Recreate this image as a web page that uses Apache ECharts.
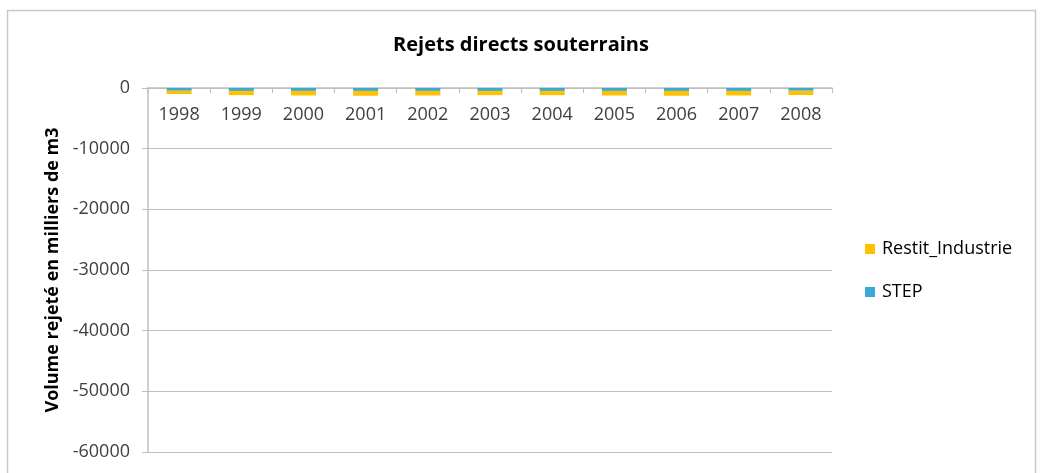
<!DOCTYPE html>
<html>
<head>
<meta charset="utf-8">
<script src="https://cdn.jsdelivr.net/npm/echarts@6/dist/echarts.min.js"></script>
<style>
  html, body { margin: 0; padding: 0; background: #fff; }
  #chart { width: 1042px; height: 473px; }
</style>
</head>
<body>
<div id="chart"></div>
<script>
const YEARS = ["1998", "1999", "2000", "2001", "2002", "2003", "2004", "2005", "2006", "2007", "2008"];
const STEP = [-450, -480, -480, -480, -480, -480, -480, -480, -480, -480, -450];
const RESTIT_INDUSTRIE = [-550, -700, -750, -800, -750, -700, -700, -750, -800, -750, -700];
const Y_MIN = -60000;
const Y_MAX = 0;
const Y_STEP = 10000;

const FONT = "'Open Sans', sans-serif";
const TEXT = "#404040";
const GRID_LINE = "#bfbfbf";

const chart = echarts.init(document.getElementById("chart"));

chart.setOption({
  animation: false,
  backgroundColor: "#fff",
  graphic: [{
    type: "rect",
    shape: { x: 7.5, y: 10.5, width: 1028, height: 500 },
    style: { fill: "none", stroke: "#c8c8c8", lineWidth: 1.5 },
    silent: true,
  }],
  title: {
    text: "Rejets directs souterrains",
    left: "center",
    top: 30,
    textStyle: { fontFamily: FONT, fontSize: 20, fontWeight: "bold", color: "#000" },
  },
  legend: {
    orient: "vertical",
    left: 860,
    top: 235,
    itemGap: 25,
    itemWidth: 10,
    itemHeight: 10,
    icon: "rect",
    data: ["Restit_Industrie", "STEP"],
    textStyle: { fontFamily: FONT, fontSize: 18, color: "#000", padding: [0, 0, 0, 2] },
  },
  grid: { left: 148, right: 210, top: 88, bottom: 21, outerBoundsMode: "none" },
  xAxis: {
    type: "category",
    data: YEARS,
    position: "top",
    axisLine: { lineStyle: { color: GRID_LINE, width: 1.5 } },
    axisTick: { show: true, inside: true, length: 5, lineStyle: { color: GRID_LINE } },
    axisLabel: { inside: true, margin: 18, fontFamily: FONT, fontSize: 18, color: TEXT },
  },
  yAxis: {
    type: "value",
    min: Y_MIN,
    max: Y_MAX,
    interval: Y_STEP,
    name: "Volume rejeté en milliers de m3",
    nameLocation: "middle",
    nameGap: 84,
    nameTextStyle: { fontFamily: FONT, fontSize: 18, fontWeight: "bold", color: "#000" },
    axisLine: { show: true, lineStyle: { color: GRID_LINE, width: 1.5 } },
    axisTick: { show: true, length: 6, lineStyle: { color: GRID_LINE } },
    axisLabel: {
      margin: 18, fontFamily: FONT, fontSize: 18, color: TEXT,
      formatter: v => String(v),
    },
    splitLine: { lineStyle: { color: GRID_LINE, width: 1.2 } },
  },
  series: [
    {
      name: "STEP",
      type: "bar",
      stack: "total",
      barWidth: 25,
      itemStyle: { color: "#3ba9d6" },
      data: STEP,
    },
    {
      name: "Restit_Industrie",
      type: "bar",
      stack: "total",
      barWidth: 25,
      itemStyle: { color: "#ffc000" },
      data: RESTIT_INDUSTRIE,
    },
  ],
});
</script>
</body>
</html>
